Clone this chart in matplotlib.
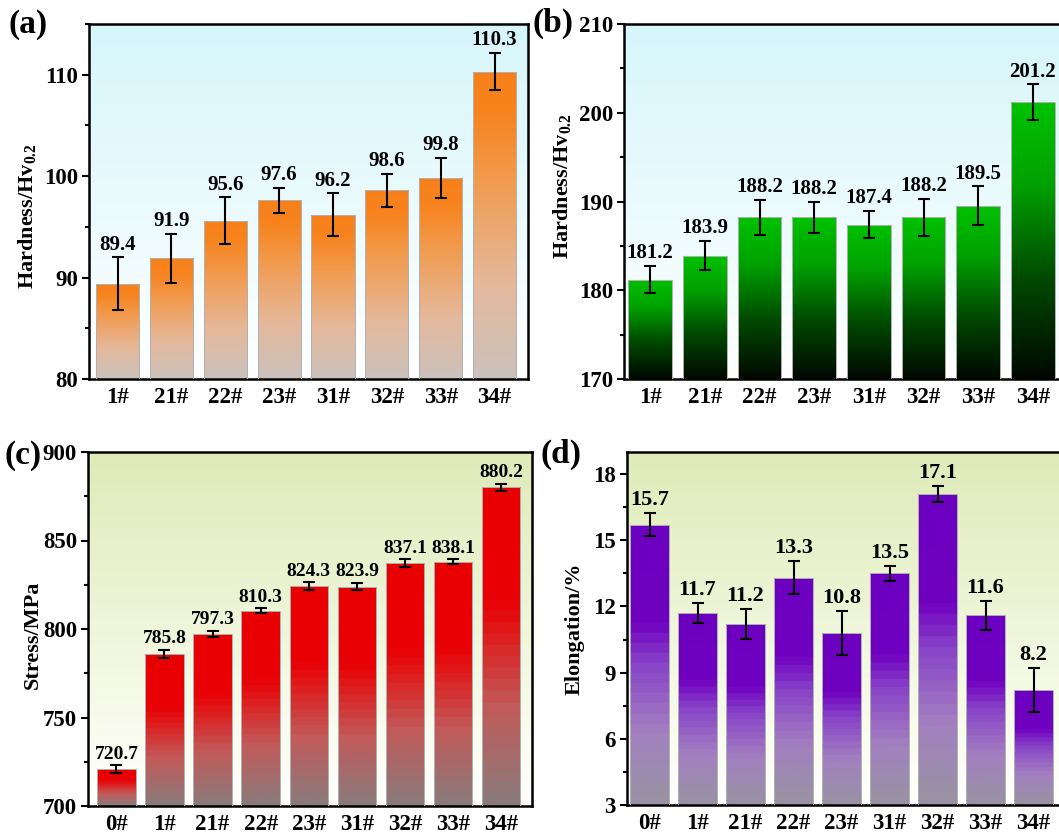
import numpy as np
import matplotlib.pyplot as plt
from matplotlib.colors import LinearSegmentedColormap
from matplotlib.ticker import MultipleLocator

plt.rcParams['font.family'] = 'Liberation Serif'
plt.rcParams['font.weight'] = 'bold'
plt.rcParams['mathtext.fontset'] = 'custom'
plt.rcParams['mathtext.rm'] = 'Liberation Serif:bold'
plt.rcParams['mathtext.bf'] = 'Liberation Serif:bold'
plt.rcParams['mathtext.it'] = 'Liberation Serif:bold'
plt.rcParams['mathtext.default'] = 'rm'

# ---- data ----
samples_hv = ['1#', '21#', '22#', '23#', '31#', '32#', '33#', '34#']
hv_a = [89.4, 91.9, 95.6, 97.6, 96.2, 98.6, 99.8, 110.3]
hv_a_err = [2.6, 2.4, 2.3, 1.25, 2.1, 1.65, 2.0, 1.85]
hv_b = [181.2, 183.9, 188.2, 188.2, 187.4, 188.2, 189.5, 201.2]
hv_b_err = [1.55, 1.65, 2.0, 1.75, 1.5, 2.1, 2.2, 2.0]

samples_ten = ['0#', '1#', '21#', '22#', '23#', '31#', '32#', '33#', '34#']
stress = [720.7, 785.8, 797.3, 810.3, 824.3, 823.9, 837.1, 838.1, 880.2]
stress_err = [2.3, 2.3, 1.8, 1.4, 2.0, 2.0, 2.2, 1.2, 2.0]
elong = [15.7, 11.7, 11.2, 13.3, 10.8, 13.5, 17.1, 11.6, 8.2]
elong_err = [0.53, 0.45, 0.68, 0.75, 1.0, 0.35, 0.37, 0.65, 1.0]

# gradients (bottom -> top)
cm_orange = LinearSegmentedColormap.from_list(
    'org', [(0, '#cbc2bd'), (0.3, '#e4b99c'), (0.65, '#f29a4c'), (0.85, '#f7841f'), (1, '#f87f18')])
cm_green = LinearSegmentedColormap.from_list(
    'grn', [(0, '#000800'), (0.35, '#004800'), (0.7, '#00a200'), (1, '#00c400')])
cm_red = LinearSegmentedColormap.from_list(
    'red', [(0, '#8c7a7a'), (0.3, '#c25a5a'), (0.55, '#e01818'), (0.65, '#e80006'), (1, '#e80000')], N=28)
cm_purple = LinearSegmentedColormap.from_list(
    'pur', [(0, '#9a92a4'), (0.25, '#a280c0'), (0.5, '#8842c8'), (0.65, '#7000c0'), (1, '#6c00c0')], N=28)
bg_blue = LinearSegmentedColormap.from_list('bgb', ['#ffffff', '#d6f6fb'])
bg_olive = LinearSegmentedColormap.from_list('bgo', [(0, '#ffffff'), (0.15, '#fbfdf3'), (1, '#dfebb8')])

W, H = 1059, 835
fig = plt.figure(figsize=(W / 100, H / 100), dpi=100)


def panel(rect, labels, vals, errs, ylim, major, minor, xlim, cmap, bg,
          ylabel, lab_xy, val_fs):
    ax = fig.add_axes(rect)
    x = np.arange(len(labels))
    grad = np.linspace(0, 1, 256).reshape(-1, 1)

    ax.imshow(grad, extent=(0, 1, 0, 1), transform=ax.transAxes, origin='lower',
              cmap=bg, aspect='auto', zorder=0)

    bars = ax.bar(x, vals, width=0.8, facecolor='none', edgecolor='#b0b0b0',
                  linewidth=0.7, zorder=3)
    pad = 0.01 * (ylim[1] - ylim[0])
    for b, v in zip(bars, vals):
        im = ax.imshow(grad, extent=(b.get_x() - 0.02, b.get_x() + b.get_width() + 0.02,
                                     ylim[0], v + pad),
                       origin='lower', cmap=cmap, aspect='auto', zorder=2,
                       interpolation='bilinear')
        im.set_clip_path(b)

    ax.errorbar(x, vals, yerr=errs, fmt='none', ecolor='k', elinewidth=1.5,
                capsize=4, capthick=1.5, zorder=4)
    for xi, v, e in zip(x, vals, errs):
        ax.annotate(f'{v:.1f}', (xi, v + e), xytext=(0, 2), textcoords='offset points',
                    ha='center', va='bottom', fontsize=val_fs, fontweight='bold')

    ax.set_xlim(*xlim)
    ax.set_ylim(*ylim)
    ax.set_xticks(x)
    ax.set_xticklabels(labels)
    ax.yaxis.set_major_locator(MultipleLocator(major))
    ax.yaxis.set_minor_locator(MultipleLocator(minor))
    ax.tick_params(axis='y', which='major', direction='out', length=5, width=1.5,
                   labelsize=16.5, pad=3)
    ax.tick_params(axis='y', which='minor', direction='out', length=3, width=1.5)
    ax.tick_params(axis='x', length=0, labelsize=16.5, pad=6)
    for s in ax.spines.values():
        s.set_linewidth(1.8)
    ax.set_ylabel(ylabel, fontsize=16, fontweight='bold')
    ax.yaxis.set_label_coords(*lab_xy)
    return ax


panel([89 / W, 1 - 379 / H, 439 / W, 355 / H], samples_hv, hv_a, hv_a_err,
      (80, 115), 10, 5, (-0.53, 7.62), cm_orange, bg_blue,
      r'Hardness/Hv$_{0.2}$', (-0.116, 0.46), 15)
panel([624 / W, 1 - 379 / H, 439 / W, 355 / H], samples_hv, hv_b, hv_b_err,
      (170, 210), 10, 5, (-0.48, 7.55), cm_green, bg_blue,
      r'Hardness/Hv$_{0.2}$', (-0.116, 0.544), 15)
panel([88 / W, 1 - 806 / H, 444 / W, 354 / H], samples_ten, stress, stress_err,
      (700, 900), 50, 25, (-0.59, 8.64), cm_red, bg_olive,
      'Stress/MPa', (-0.101, 0.483), 14)
panel([627 / W, 1 - 805 / H, 444 / W, 353 / H], samples_ten, elong, elong_err,
      (3, 19), 3, 1.5, (-0.47, 8.78), cm_purple, bg_olive,
      'Elongation/%', (-0.095, 0.5), 16)

for txt, px, py in [('(a)', 9, 9), ('(b)', 533, 8), ('(c)', 5, 440), ('(d)', 541, 439)]:
    fig.text(px / W, 1 - py / H, txt, fontsize=24, fontweight='bold', ha='left', va='top')

fig.savefig('out.png', dpi=100)
